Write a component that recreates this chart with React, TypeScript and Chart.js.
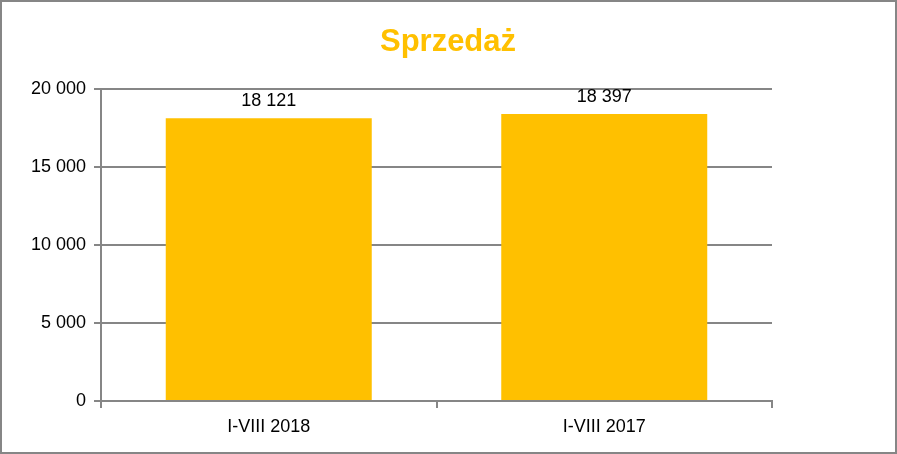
import React, { useEffect, useRef } from "react";
import { Chart, registerables } from "chart.js";

Chart.register(...registerables);

const categories = ["I-VIII 2018", "I-VIII 2017"];
const sales = [18121, 18397];
const yTicks = [0, 5000, 10000, 15000, 20000];
const title = "Sprzedaż";

const fmt = (v: number) => {
  const s = Math.round(v).toString();
  return s.replace(/\B(?=(\d{3})+(?!\d))/g, " ");
};

const FONT = "'Liberation Sans', Arial, sans-serif";

export default function App() {
  const ref = useRef<HTMLCanvasElement>(null);
  useEffect(() => {
    document.body.style.margin = "0";
    const canvas = ref.current!;
    const bgPlugin = {
      id: "bg",
      beforeDraw(chart: any) {
        const ctx = chart.ctx;
        ctx.save();
        ctx.fillStyle = "#ffffff";
        ctx.fillRect(0, 0, chart.width, chart.height);
        ctx.restore();
      },
      afterDraw(chart: any) {
        const ctx = chart.ctx;
        ctx.save();
        ctx.strokeStyle = "#868686";
        ctx.lineWidth = 2;
        ctx.strokeRect(1, 1, chart.width - 2, chart.height - 2);
        ctx.fillStyle = "#FFC000";
        ctx.font = `bold 31px ${FONT}`;
        ctx.textAlign = "center";
        ctx.textBaseline = "middle";
        ctx.fillText(title, 448, 42);
        // data labels
        const meta = chart.getDatasetMeta(0);
        ctx.fillStyle = "#000000";
        ctx.font = `18px ${FONT}`;
        ctx.textBaseline = "bottom";
        meta.data.forEach((bar: any, i: number) => {
          ctx.fillText(fmt(sales[i]), bar.x, bar.y - 8);
        });
        ctx.restore();
      },
    };
    const chart = new Chart(canvas, {
      type: "bar",
      data: {
        labels: categories,
        datasets: [
          {
            data: sales,
            backgroundColor: "#FFC000",
            borderWidth: 0,
            categoryPercentage: 1,
            barPercentage: 0.614,
          },
        ],
      },
      options: {
        responsive: false,
        animation: false,
        devicePixelRatio: 1,
        layout: { padding: { top: 89, right: 125, left: 0, bottom: 0 } },
        plugins: {
          legend: { display: false },
          title: { display: false },
          tooltip: { enabled: false },
        },
        scales: {
          x: {
            afterFit: (s: any) => {
              s.height = 53;
            },
            grid: {
              drawOnChartArea: false,
              drawTicks: true,
              tickLength: 7,
              color: "#868686",
              lineWidth: 2,
              offset: true,
            },
            border: { color: "#868686", width: 2 },
            ticks: {
              color: "#000000",
              font: { family: FONT, size: 18 },
              padding: 8,
            },
          },
          y: {
            min: 0,
            max: 20000,
            afterFit: (s: any) => {
              s.width = 101;
            },
            afterBuildTicks: (s: any) => {
              s.ticks = yTicks.map((v) => ({ value: v }));
            },
            grid: {
              color: "#868686",
              lineWidth: 2,
              tickLength: 7,
            },
            border: { color: "#868686", width: 2 },
            ticks: {
              color: "#000000",
              font: { family: FONT, size: 18 },
              padding: 8,
              callback: (v: any) => fmt(Number(v)),
            },
          },
        },
      },
      plugins: [bgPlugin],
    });
    return () => chart.destroy();
  }, []);
  return (
    <div style={{ position: "absolute", left: 0, top: 0, width: 897, height: 454 }}>
      <canvas ref={ref} width={897} height={454} style={{ width: 897, height: 454 }} />
    </div>
  );
}
